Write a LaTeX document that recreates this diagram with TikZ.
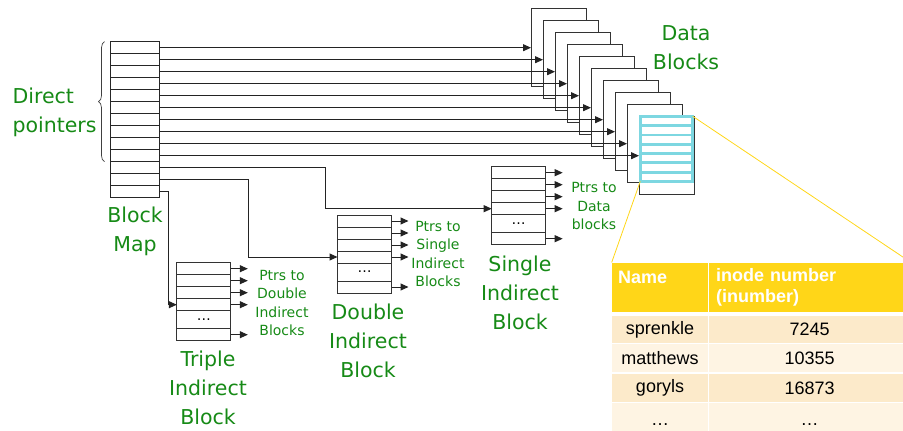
\documentclass[tikz,border=0pt]{standalone}
\usepackage{fontspec}
\setmainfont{DejaVu Sans}
\newfontfamily\tabfont{Liberation Sans}
\usepackage{tikz}
\usetikzlibrary{arrows.meta,positioning,calc,decorations.pathreplacing}
\definecolor{lbl}{RGB}{22,138,22}
\definecolor{rowcyan}{RGB}{125,215,225}
\definecolor{hdgold}{RGB}{255,214,24}
\definecolor{rowa}{RGB}{252,234,202}
\definecolor{rowb}{RGB}{254,244,227}
\definecolor{wire}{RGB}{35,35,35}
\newcommand{\labbig}{\fontsize{20.5}{29}\selectfont}
\newcommand{\labsmall}{\fontsize{14}{18.5}\selectfont}

\begin{document}
\begin{tikzpicture}[x=1pt,y=-1pt,
  cell/.style={draw=black!85,fill=white,line width=0.9pt,inner sep=0pt,outer sep=0pt,minimum width=49pt,minimum height=12pt},
  iblk/.style={draw=black!80,fill=white,line width=0.9pt,inner sep=0pt,outer sep=0pt,minimum width=54pt,minimum height=12pt},
  dblk/.style={draw=black!80,fill=white,line width=0.9pt,inner sep=0pt,outer sep=0pt,minimum width=55pt,minimum height=78pt},
  cyrow/.style={draw=rowcyan,fill=white,line width=2.8pt,inner sep=0pt,outer sep=0pt,minimum width=52.5pt,minimum height=9.3pt},
  ptr/.style={draw=wire,line width=1pt,-{Triangle[length=8pt,width=7pt]}},
  lab/.style={text=lbl,align=center,font=\labbig},
  slab/.style={text=lbl,align=center,font=\labsmall},
  zoomln/.style={draw=hdgold,line width=0.8pt},
  tcell/.style={inner sep=0pt,outer sep=0pt,draw=white,line width=1.5pt,font=\tabfont\fontsize{18}{21}\selectfont}]
\useasboundingbox (0,0) rectangle (903,431);

% block map
\foreach \i in {1,...,13} \node[cell] (bm\i) at (135,35.7+12*\i) {};
\draw[decorate,decoration={brace,amplitude=6pt},black!75,line width=0.7pt]
  ([xshift=-6pt]bm10.south west) -- ([xshift=-6pt]bm1.north west);
\node[lab,align=left,anchor=west] (dirlbl) at (9,112) {Direct\\pointers};
\node[lab] (bmlbl) at (135,231) {Block\\Map};

% data blocks, last one holds the directory
\foreach \i in {1,...,10} \node[dblk] (db\i) at (546.5+12*\i,35.7+12*\i) {};
\foreach \j in {1,...,7} \node[cyrow] (cy\j) at (666.5,111.65+9.3*\j) {};
\node[lab] (dblbl) at (686,48) {Data\\Blocks};
\foreach \i in {1,...,10} \draw[ptr] (bm\i.east) -- (db\i.west);

% indirect blocks
\foreach \n/\x/\t in {si/518.7/166.7,di/364.5/215,ti/203.8/262.7}{
  \foreach \r in {1,...,4} \node[iblk] (\n\r) at (\x,\t+12*\r-6) {};
  \node[iblk,minimum height=18pt,font=\labsmall] (\n5) at (\x,\t+57) {\dots};
  \node[iblk] (\n6) at (\x,\t+72) {};
  \foreach \r in {1,2,3,4,6} \draw[ptr] (\n\r.east) -- ++(17,0);
}
\draw[ptr] (bm11.east) -- ++(166,0) |- (si4.west);
\draw[ptr] (bm12.east) -- ++(89,0) |- (di4.west);
\draw[ptr] (bm13.east) -- ++(8.5,0) |- (ti4.west);
\node[lab] (silbl) at (520,293) {Single\\Indirect\\Block};
\node[lab] (dilbl) at (368,341) {Double\\Indirect\\Block};
\node[lab] (tilbl) at (208,388) {Triple\\Indirect\\Block};
\node[slab] (siptr) at (594,206) {Ptrs to\\Data\\blocks};
\node[slab] (diptr) at (438,254) {Ptrs to\\Single\\Indirect\\Blocks};
\node[slab] (tiptr) at (282,303) {Ptrs to\\Double\\Indirect\\Blocks};

% directory table
\node[tcell,fill=hdgold,minimum width=96.6pt,minimum height=50pt,text width=84pt,align=left,text=white,font=\tabfont\fontsize{18}{21}\selectfont\bfseries] (h1) at (660,287.4) {Name\\\mbox{}};
\node[tcell,fill=hdgold,minimum width=202.7pt,minimum height=50pt,text width=187pt,align=left,text=white,font=\tabfont\fontsize{18}{21}\selectfont\bfseries] (h2) at (809.6,287.4) {inode number\\(inumber)};
\foreach \nm/\num/\y/\h/\c [count=\k] in {sprenkle/7245/329.6/29.3/rowa,matthews/10355/358.3/29.3/rowb,goryls/16873/388/29.3/rowa,{\dots}/{\dots}/425/44.6/rowb}{
  \node[tcell,fill=\c,minimum width=96.6pt,minimum height=\h pt] (n\k) at (660,\y) {\nm};
  \node[tcell,fill=\c,minimum width=202.7pt,minimum height=\h pt] (v\k) at (809.6,\y) {\num};
}
\draw[zoomln] (cy7.south west) -- (h1.north west);
\draw[zoomln] (cy1.north east) -- (h2.north east);
\end{tikzpicture}
\end{document}
